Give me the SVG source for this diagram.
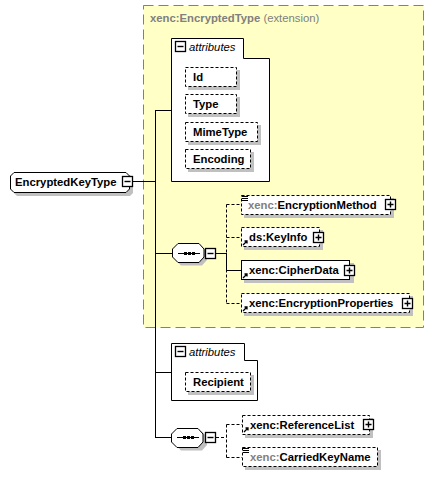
<svg xmlns="http://www.w3.org/2000/svg" width="435" height="477" viewBox="0 0 435 477">
<style>
text{font-family:"Liberation Sans",Arial,sans-serif;font-size:11.3px;font-weight:bold;fill:#000}
.g{fill:#808080}
.n{font-weight:normal}
.it{font-style:italic;font-weight:normal}
.sh{fill:#c0c0c0;stroke:none}
.bx{fill:#fff;stroke:#000;stroke-width:1}
.d{stroke-dasharray:3,2}
.ln{stroke:#000;stroke-width:1;fill:none}
.ic{stroke:#000;stroke-width:1.4;fill:none}
</style>
<defs>
<g id="plus"><rect x="0.5" y="0.5" width="10" height="10" fill="#fff" stroke="#000" stroke-width="1.3"/><path d="M2.5,5.5h6M5.5,2.5v6" class="ic"/></g>
<g id="minus"><rect x="0.5" y="0.5" width="10" height="10" fill="#fff" stroke="#000" stroke-width="1.3"/><path d="M2.5,5.5h6" class="ic"/></g>
<g id="ref"><path d="M1,6 L5,2 M2.5,2 H5 V4.5" stroke="#000" stroke-width="1.3" fill="none"/></g>
<g id="simple"><path d="M0,0.5h6M0,2.5h6M0,4.5h6" stroke="#000" stroke-width="1"/></g>
<g id="seq"><path d="M6,0.5 H27 L32,6 V14 L27,19.5 H6 L0.5,14 V6 Z"/></g>
</defs>

<g id="extension">
<rect x="143.5" y="5.5" width="280" height="322" fill="#ffffc6" stroke="#808080" stroke-dasharray="10,5"/>
<text x="150" y="22" class="g">xenc:EncryptedType <tspan class="n">(extension)</tspan></text>
</g>

<g id="connectors">
<path d="M132,181.5H156M155.5,110V437.5M155,110.5H172M155,253.5H172M155,372.5H172M155,437.5H172" class="ln"/>
<path d="M216,253.5H226.5M226.5,253V270.5H241" class="ln"/>
<path d="M226.5,204.5V303.5M226.5,204.5H241M226.5,237.5H241M226.5,303.5H241" class="ln d"/>
<path d="M216,437.5H226.5M226.5,424.5V457.5M226.5,424.5H242M226.5,457.5H242" class="ln d"/>
</g>

<g id="EncryptedKeyType">
<path d="M17,175 H130 L133,178 V193 L130,196 H17 L14,193 V178 Z" class="sh"/>
<path d="M14,172.5 H126 L129.5,176 V189 L126,192.5 H14 L10.5,189 V176 Z" class="bx"/>
<text x="15" y="186">EncryptedKeyType</text>
<use href="#minus" x="122" y="176"/>
</g>

<g id="attributes1">
<path d="M171.5,38.5 H243.5 V58.5 H269.5 V181.5 H171.5 Z" class="bx"/>
<use href="#minus" x="175" y="41"/>
<text x="189" y="51" class="it">attributes</text>
<g id="attr-Id"><rect x="188" y="70" width="52" height="20" class="sh"/><rect x="185.5" y="67.5" width="51" height="19" class="bx d"/><text x="193" y="81">Id</text></g>
<g id="attr-Type"><rect x="188" y="97" width="52" height="20" class="sh"/><rect x="185.5" y="94.5" width="51" height="19" class="bx d"/><text x="193" y="108">Type</text></g>
<g id="attr-MimeType"><rect x="188" y="125" width="73" height="20" class="sh"/><rect x="185.5" y="122.5" width="72" height="19" class="bx d"/><text x="193" y="136">MimeType</text></g>
<g id="attr-Encoding"><rect x="188" y="152" width="66" height="20" class="sh"/><rect x="185.5" y="149.5" width="65" height="19" class="bx d"/><text x="193" y="163">Encoding</text></g>
</g>

<g id="sequence1">
<use href="#seq" x="175" y="246" class="sh"/>
<use href="#seq" x="172" y="243" fill="#fff" stroke="#000"/>
<path d="M178,253.5H200" class="ln"/>
<rect x="184" y="252" width="3" height="3"/><rect x="188" y="252" width="3" height="3"/><rect x="192" y="252" width="3" height="3"/>
<use href="#minus" x="205" y="248"/>
</g>

<g id="EncryptionMethod">
<rect x="244" y="198" width="150" height="20" class="sh"/>
<rect x="241.5" y="195.5" width="149" height="19" class="bx d"/>
<use href="#simple" x="242" y="196"/>
<text x="248" y="209"><tspan class="g">xenc:</tspan>EncryptionMethod</text>
<use href="#plus" x="385" y="199"/>
</g>

<g id="KeyInfo">
<rect x="244" y="230" width="79" height="20" class="sh"/>
<rect x="241.5" y="227.5" width="78" height="19" class="bx d"/>
<use href="#ref" x="242" y="239"/>
<text x="249" y="241">ds:KeyInfo</text>
<use href="#plus" x="313" y="232"/>
</g>

<g id="CipherData">
<rect x="244" y="263" width="110" height="20" class="sh"/>
<rect x="241.5" y="260.5" width="108" height="19" class="bx"/>
<use href="#ref" x="242" y="272"/>
<text x="249" y="274">xenc:CipherData</text>
<use href="#plus" x="344" y="265"/>
</g>

<g id="EncryptionProperties">
<rect x="244" y="296" width="169" height="20" class="sh"/>
<rect x="241.5" y="293.5" width="168" height="19" class="bx d"/>
<use href="#ref" x="242" y="305"/>
<text x="249" y="307">xenc:EncryptionProperties</text>
<use href="#plus" x="402" y="298"/>
</g>

<g id="attributes2">
<path d="M171.5,343.5 H244.5 V360.5 H257.5 V400.5 H171.5 Z" class="bx"/>
<use href="#minus" x="175" y="346"/>
<text x="189" y="356" class="it">attributes</text>
<g id="attr-Recipient"><rect x="188" y="375" width="66" height="20" class="sh"/><rect x="185.5" y="372.5" width="65" height="19" class="bx d"/><text x="193" y="386">Recipient</text></g>
</g>

<g id="sequence2">
<use href="#seq" x="175" y="431" class="sh"/>
<use href="#seq" x="171" y="428" fill="#fff" stroke="#000"/>
<path d="M177,437.5H199" class="ln"/>
<rect x="183" y="436" width="3" height="3"/><rect x="187" y="436" width="3" height="3"/><rect x="191" y="436" width="3" height="3"/>
<use href="#minus" x="205" y="432"/>
</g>

<g id="ReferenceList">
<rect x="245" y="418" width="128" height="20" class="sh"/>
<rect x="242.5" y="415.5" width="127" height="19" class="bx d"/>
<use href="#ref" x="243" y="426"/>
<text x="250" y="429">xenc:ReferenceList</text>
<use href="#plus" x="363" y="419"/>
</g>

<g id="CarriedKeyName">
<rect x="245" y="450" width="136" height="20" class="sh"/>
<rect x="242.5" y="447.5" width="135" height="19" class="bx d"/>
<use href="#simple" x="243" y="448"/>
<text x="250" y="461"><tspan class="g">xenc:</tspan>CarriedKeyName</text>
</g>
</svg>
